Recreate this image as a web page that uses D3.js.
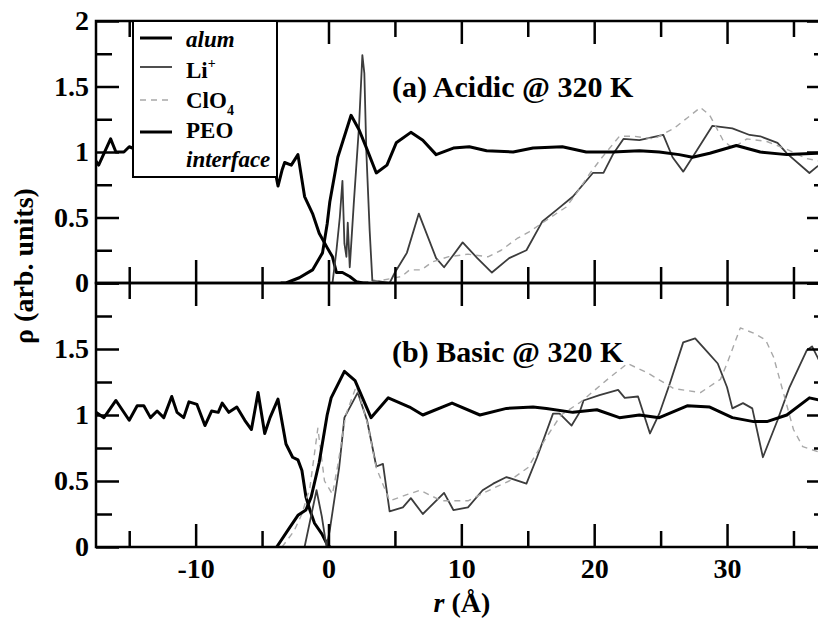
<!DOCTYPE html>
<html>
<head>
<meta charset="utf-8">
<script src="https://cdn.jsdelivr.net/npm/d3@7"></script>
<style>
  body { margin: 0; background: #fff; }
  svg { display: block; }
</style>
</head>
<body>
<svg id="chart" width="818" height="618"></svg>
<script>
// ---------- data: density profiles rho(r), arbitrary units ----------
// (a) Acidic @ 320 K
const aAlumX = [-17.5, -17.3, -16.4, -16.0, -15.4, -15.0, -14.0, -12.0, -10.0, -8.0, -6.0, -4.2, -3.8, -3.5, -3.3, -2.8, -2.3, -1.8, -1.2, -0.7, -0.1, 0.3, 0.6, 1.05, 1.6, 2.1, 2.6, 3.0];
const aAlumY = [0.93, 0.90, 1.10, 1.00, 1.00, 1.04, 1.00, 0.98, 1.02, 0.97, 1.03, 0.95, 0.74, 0.86, 0.92, 0.90, 0.98, 0.66, 0.53, 0.38, 0.27, 0.20, 0.08, 0.08, 0.05, 0.01, 0.00, 0.00];

const aLiX = [-2.0, 0.3, 0.6, 0.85, 1.05, 1.2, 1.35, 1.45, 1.6, 1.9, 2.3, 2.55, 2.7, 2.85, 3.1, 3.3, 4.6, 5.0, 5.9, 6.8, 8.1, 8.7, 9.3, 10.1, 11.2, 12.3, 13.6, 14.9, 16.1, 17.2, 18.4, 19.9, 20.7, 21.4, 22.2, 23.4, 25.2, 25.9, 26.7, 27.4, 28.9, 30.4, 31.7, 32.5, 33.8, 34.5, 36.2, 36.8, 37.5];
const aLiY = [0.00, 0.00, 0.25, 0.50, 0.78, 0.30, 0.20, 0.46, 0.12, 0.60, 1.20, 1.74, 1.60, 1.00, 0.40, 0.02, 0.00, 0.08, 0.23, 0.53, 0.19, 0.12, 0.20, 0.31, 0.19, 0.08, 0.19, 0.25, 0.47, 0.56, 0.66, 0.84, 0.84, 0.98, 1.10, 1.09, 1.13, 0.96, 0.85, 0.96, 1.20, 1.18, 1.13, 1.12, 1.07, 0.99, 0.84, 0.89, 0.93];

const aClX = [2.5, 4.0, 5.5, 6.1, 7.0, 7.8, 9.0, 10.5, 12.0, 13.0, 14.2, 15.1, 16.7, 17.9, 18.7, 19.7, 20.6, 21.9, 23.0, 24.5, 26.0, 27.0, 28.0, 28.7, 29.7, 30.4, 31.5, 33.0, 34.5, 36.0, 37.5];
const aClY = [0.00, 0.02, 0.05, 0.10, 0.10, 0.16, 0.20, 0.22, 0.20, 0.25, 0.34, 0.39, 0.50, 0.58, 0.69, 0.84, 0.96, 1.12, 1.12, 1.10, 1.18, 1.26, 1.34, 1.28, 1.09, 1.03, 1.10, 1.08, 1.02, 0.95, 0.92];

const aPeoX = [-3.6, -3.2, -2.2, -1.2, -0.45, -0.1, 0.1, 0.7, 1.7, 2.3, 2.9, 3.6, 4.4, 5.1, 6.2, 7.1, 8.1, 9.4, 10.6, 11.9, 13.9, 15.4, 17.6, 19.4, 21.4, 23.4, 24.9, 26.4, 27.4, 28.7, 30.7, 32.5, 34.5, 36.8, 37.5];
const aPeoY = [0.00, 0.00, 0.04, 0.10, 0.23, 0.45, 0.62, 0.96, 1.28, 1.17, 1.02, 0.84, 0.90, 1.07, 1.15, 1.09, 0.98, 1.03, 1.04, 1.01, 1.00, 1.03, 1.04, 1.00, 1.00, 1.01, 1.00, 0.98, 0.96, 0.99, 1.05, 1.00, 0.98, 0.99, 0.99];

// (b) Basic @ 320 K
const bAlumX = [-17.5, -16.9, -16.0, -15.0, -14.4, -13.9, -13.4, -12.9, -12.4, -11.8, -11.4, -10.9, -10.5, -9.9, -9.3, -8.8, -8.3, -8.0, -7.5, -6.9, -6.3, -5.8, -5.3, -4.8, -4.4, -3.8, -3.2, -2.7, -2.3, -2.0, -1.7, -1.4, -1.05, -0.5, -0.15, 0.1];
const bAlumY = [1.02, 0.98, 1.11, 0.96, 1.07, 1.07, 0.98, 1.03, 0.98, 1.14, 1.02, 0.98, 1.10, 1.08, 0.92, 1.03, 1.02, 1.09, 1.02, 1.06, 0.96, 0.89, 1.17, 0.86, 0.98, 1.12, 0.78, 0.68, 0.66, 0.58, 0.38, 0.28, 0.18, 0.10, 0.03, 0.00];

const bLiX = [-2.0, -1.8, -0.9, -0.5, -0.15, 0.1, 0.8, 1.2, 2.2, 2.9, 3.6, 4.1, 4.6, 5.6, 6.2, 7.1, 8.7, 9.4, 10.5, 11.6, 12.4, 13.4, 14.9, 15.7, 16.9, 17.4, 18.3, 18.9, 19.2, 20.4, 21.8, 22.3, 23.3, 24.2, 24.9, 25.7, 26.7, 27.6, 28.5, 29.3, 30.0, 30.4, 31.2, 31.9, 32.7, 33.8, 34.7, 36.0, 36.4, 36.8, 37.5];
const bLiY = [0.00, 0.00, 0.43, 0.23, 0.00, 0.13, 0.60, 0.98, 1.17, 0.96, 0.61, 0.63, 0.27, 0.30, 0.37, 0.25, 0.41, 0.28, 0.30, 0.43, 0.48, 0.53, 0.48, 0.68, 1.01, 1.01, 0.92, 1.02, 1.11, 1.15, 1.19, 1.13, 1.14, 0.86, 1.01, 1.24, 1.55, 1.58, 1.48, 1.39, 1.21, 1.05, 1.09, 1.05, 0.68, 0.96, 1.21, 1.49, 1.52, 1.44, 1.30];

const bClX = [-3.5, -2.6, -2.0, -1.4, -0.8, -0.3, 0.3, 0.7, 1.3, 2.1, 2.9, 3.6, 4.6, 6.0, 6.9, 8.5, 10.5, 12.5, 13.6, 15.0, 16.4, 17.5, 19.0, 21.0, 22.5, 24.0, 26.0, 28.0, 29.5, 30.0, 31.0, 32.0, 32.9, 33.5, 35.0, 35.7, 37.5];
const bClY = [0.00, 0.12, 0.25, 0.45, 0.90, 0.50, 0.40, 0.62, 1.00, 1.22, 0.95, 0.60, 0.35, 0.40, 0.43, 0.35, 0.35, 0.45, 0.50, 0.60, 0.83, 1.00, 1.10, 1.27, 1.39, 1.32, 1.20, 1.17, 1.27, 1.39, 1.66, 1.62, 1.57, 1.44, 0.89, 0.76, 0.70];

const bPeoX = [-3.9, -2.9, -2.3, -1.7, -1.3, -0.7, -0.1, 0.2, 1.2, 2.0, 3.2, 4.5, 6.1, 7.1, 9.3, 11.4, 13.4, 15.4, 16.4, 18.4, 20.2, 21.9, 23.4, 24.9, 27.0, 28.7, 30.4, 32.0, 33.0, 34.5, 36.2, 37.5];
const bPeoY = [0.00, 0.15, 0.24, 0.28, 0.38, 0.64, 1.00, 1.13, 1.33, 1.26, 0.98, 1.13, 1.06, 1.00, 1.09, 1.00, 1.05, 1.06, 1.05, 1.02, 1.04, 0.98, 1.00, 0.98, 1.07, 1.06, 0.98, 0.95, 0.95, 1.00, 1.13, 1.10];

// axis ticks and labels
const xMajor = [-10, 0, 10, 20, 30];
const xMinor = [-15, -5, 5, 15, 25, 35];
const xTickLabels = ["-10", "0", "10", "20", "30"];
const yMajor = [0, 0.5, 1, 1.5, 2];
const yMinor = [0.25, 0.75, 1.25, 1.75];
const yTickLabelsA = ["0", "0.5", "1", "1.5", "2"];
const yTickLabelsB = ["0", "0.5", "1", "1.5"];

const legendNames = ["alum", "Li", "ClO", "PEO"];
const panelTitles = ["(a) Acidic @ 320 K", "(b) Basic @ 320 K"];

// ---------- layout ----------
const SERIF = '"Liberation Serif", serif';
const L = 96, R = 830, T = 21, M = 283, B = 547;
const MAJ = 23, MIN = 16;

const svg = d3.select("#chart");
const x = d3.scaleLinear().domain([-17.5, 37.75]).range([L, R]);
const yA = d3.scaleLinear().domain([0, 2]).range([M, T]);
const yB = d3.scaleLinear().domain([0, 2]).range([B, M]);

const styles = {
  alum: { stroke: "#000", width: 3, dash: null },
  li:   { stroke: "#3c3c3c", width: 1.8, dash: null },
  clo4: { stroke: "#a8a8a8", width: 1.4, dash: "6,5" },
  peo:  { stroke: "#000", width: 3, dash: null }
};

const zip = (xs, ys) => xs.map((v, i) => [v, ys[i]]);
const serif = (sel, size) => sel.style("font-family", SERIF).style("font-size", size + "px").style("font-weight", "bold");

const panels = [
  { y: yA, top: T, bottom: M, title: panelTitles[0], titleY: 97, labels: yTickLabelsA, labelVals: yMajor,
    series: [["alum", zip(aAlumX, aAlumY)], ["li", zip(aLiX, aLiY)], ["clo4", zip(aClX, aClY)], ["peo", zip(aPeoX, aPeoY)]] },
  { y: yB, top: M, bottom: B, title: panelTitles[1], titleY: 362, labels: yTickLabelsB, labelVals: yMajor.slice(0, 4),
    series: [["alum", zip(bAlumX, bAlumY)], ["li", zip(bLiX, bLiY)], ["clo4", zip(bClX, bClY)], ["peo", zip(bPeoX, bPeoY)]] }
];

const defs = svg.append("defs");

panels.forEach((p, i) => {
  defs.append("clipPath").attr("id", "clip" + i)
    .append("rect").attr("x", L).attr("y", p.top).attr("width", R - L).attr("height", p.bottom - p.top);

  const line = d3.line().x(d => x(d[0])).y(d => p.y(d[1]));
  const g = svg.append("g").attr("clip-path", `url(#clip${i})`);
  p.series.forEach(([key, pts]) => {
    const s = styles[key];
    g.append("path").datum(pts)
      .attr("d", line)
      .attr("fill", "none")
      .attr("stroke", s.stroke)
      .attr("stroke-width", s.width)
      .attr("stroke-linejoin", "round")
      .attr("stroke-dasharray", s.dash);
  });

  // ticks pointing inward on all four sides
  const tickGroup = (axis, tf) => {
    const t = svg.append("g").attr("transform", tf).call(axis);
    t.select(".domain").remove();
    t.selectAll("line").attr("stroke", "#000").attr("stroke-width", 2.5);
  };
  [[xMajor, MAJ], [xMinor, MIN]].forEach(([vals, len]) => {
    tickGroup(d3.axisTop(x).tickValues(vals).tickSize(-len).tickFormat(""), `translate(0,${p.top})`);
    tickGroup(d3.axisBottom(x).tickValues(vals).tickSize(-len).tickFormat(""), `translate(0,${p.bottom})`);
  });
  [[yMajor, MAJ], [yMinor, MIN]].forEach(([vals, len]) => {
    tickGroup(d3.axisLeft(p.y).tickValues(vals).tickSize(-len).tickFormat(""), `translate(${L},0)`);
    tickGroup(d3.axisRight(p.y).tickValues(vals).tickSize(-len).tickFormat(""), `translate(${R},0)`);
  });

  // frame
  svg.append("rect").attr("x", L).attr("y", p.top).attr("width", R - L).attr("height", p.bottom - p.top)
    .attr("fill", "none").attr("stroke", "#000").attr("stroke-width", 2.5);

  // y tick labels
  const yl = svg.append("g").attr("transform", `translate(${L},0)`)
    .call(d3.axisLeft(p.y).tickValues(p.labelVals).tickSize(0).tickPadding(7)
      .tickFormat((d, k) => p.labels[k]));
  yl.select(".domain").remove();
  yl.attr("font-family", null).attr("font-size", null);
  serif(yl.selectAll("text").attr("fill", "#000"), 28);

  // panel title
  serif(svg.append("text").attr("x", 392).attr("y", p.titleY), 30).text(p.title);
});

// x tick labels
const xl = svg.append("g").attr("transform", `translate(0,${B})`)
  .call(d3.axisBottom(x).tickValues(xMajor).tickSize(0).tickPadding(11)
    .tickFormat((d, k) => xTickLabels[k]));
xl.select(".domain").remove();
xl.attr("font-family", null).attr("font-size", null);
serif(xl.selectAll("text").attr("fill", "#000"), 28);

// axis titles
const xt = serif(svg.append("text").attr("x", 462).attr("y", 612).attr("text-anchor", "middle"), 28);
xt.append("tspan").style("font-style", "italic").text("r");
xt.append("tspan").text(" (Å)");

serif(svg.append("text").attr("transform", "translate(33,266) rotate(-90)").attr("text-anchor", "middle"), 28)
  .text("ρ (arb. units)");

// legend
const lg = svg.append("g");
lg.append("rect").attr("x", 133).attr("y", T).attr("width", 144).attr("height", 156)
  .attr("fill", "#fff").attr("stroke", "#000").attr("stroke-width", 2);
const rows = [
  { key: "alum", ly: 38 },
  { key: "li", ly: 67 },
  { key: "clo4", ly: 100 },
  { key: "peo", ly: 132 }
];
rows.forEach(r => {
  const s = styles[r.key];
  lg.append("line").attr("x1", 140).attr("x2", 172).attr("y1", r.ly).attr("y2", r.ly)
    .attr("stroke", s.stroke).attr("stroke-width", s.width).attr("stroke-dasharray", s.dash);
});
const lt = (y) => serif(lg.append("text").attr("x", 186).attr("y", y), 23);
lt(47).style("font-style", "italic").text(legendNames[0]);
const li = lt(78); li.append("tspan").text(legendNames[1]);
li.append("tspan").style("font-size", "14px").attr("dy", -10).text("+");
const cl = lt(108); cl.append("tspan").text(legendNames[2]);
cl.append("tspan").style("font-size", "14px").attr("dy", 7).text("4");
lt(138).text(legendNames[3]);
lt(167).style("font-style", "italic").text("interface");
</script>
</body>
</html>
